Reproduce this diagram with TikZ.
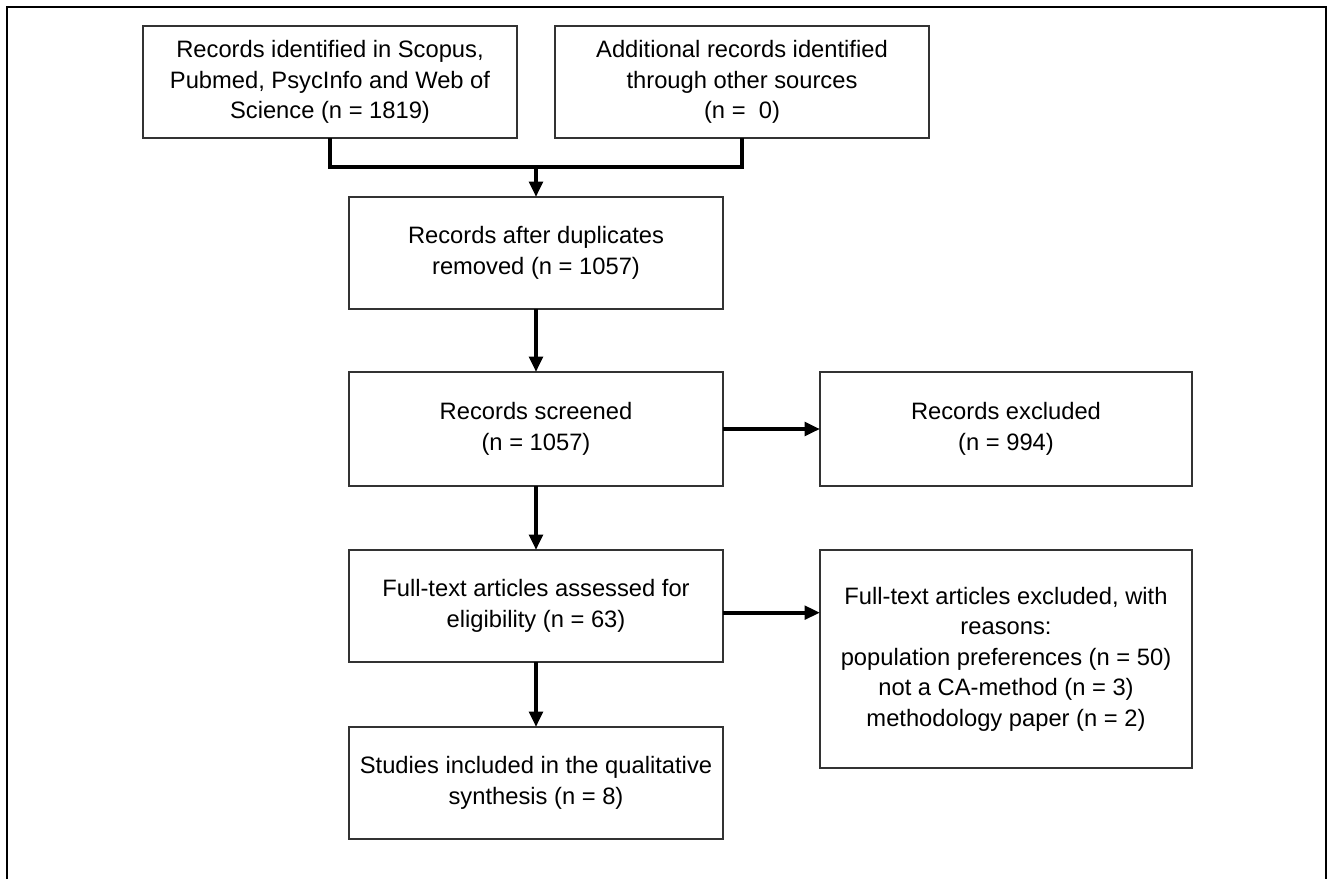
\documentclass[tikz,border=0pt]{standalone}
\usepackage{fontspec}
\setmainfont{Liberation Sans}
\usetikzlibrary{arrows.meta, positioning}
\tikzset{
    rec/.style={
        rectangle, draw=black!80, line width=1.2pt,
        align=center, inner sep=0pt, outer sep=0pt,
        minimum width=280.5pt, minimum height=84pt,
        font=\fontsize{17.8pt}{22.9pt}\selectfont
    },
    tall/.style={
        rec,
        minimum height=163.5pt
    },
    conn/.style={
        line width=3pt,
        -{Triangle[length=11.5pt, width=10pt]},
    },
    merge/.style={line width=3pt},
    frame/.style={line width=2pt},
}

\begin{document}
\begin{tikzpicture}[x=0.75pt, y=-0.75pt]
        \useasboundingbox (0,0) rectangle (1329,879);
        \draw[frame] (7,879) -- (7,7) -- (1326,7) -- (1326,879);

        \node[rec] (db) at (330,82) {Records identified in Scopus,\\ Pubmed, PsycInfo and Web of\\ Science (n = 1819)};
        \node[rec, right=28.5pt of db] (other) {Additional records identified\\ through other sources\\ (n =\ \ 0)};
        \node[rec] (dup) at (536,253) {Records after duplicates\\ removed (n = 1057)};
        \node[rec, minimum height=85.5pt, below=47.25pt of dup] (screen) {Records screened\\ (n = 1057)};
        \node[rec, minimum width=279pt, minimum height=85.5pt, right=72.75pt of screen] (excl) {Records excluded\\ (n = 994)};
        \node[rec, below=48pt of screen] (full) {Full-text articles assessed for\\ eligibility (n = 63)};
        \node[tall, minimum width=279pt, anchor=north west] (ftex) at ([xshift=72.75pt]full.north east)
            {Full-text articles excluded, with\\ reasons:\\ population preferences (n = 50)\\ not a CA-method (n = 3)\\ methodology paper (n = 2)};
        \node[rec, below=48.75pt of full] (incl) {Studies included in the qualitative\\ synthesis (n = 8)};

        \coordinate[above=22.5pt of dup] (m);
        \draw[merge] (db.south) |- (m) -| (other.south);

        \foreach \i/\j in {m/dup, dup/screen, screen/full, full/incl, screen/excl}
            \draw[conn] (\i)--(\j);

        \draw[conn] ([yshift=-5pt]full.east) -- ([yshift=-5pt]full.east -| ftex.west);
\end{tikzpicture}
\end{document}
